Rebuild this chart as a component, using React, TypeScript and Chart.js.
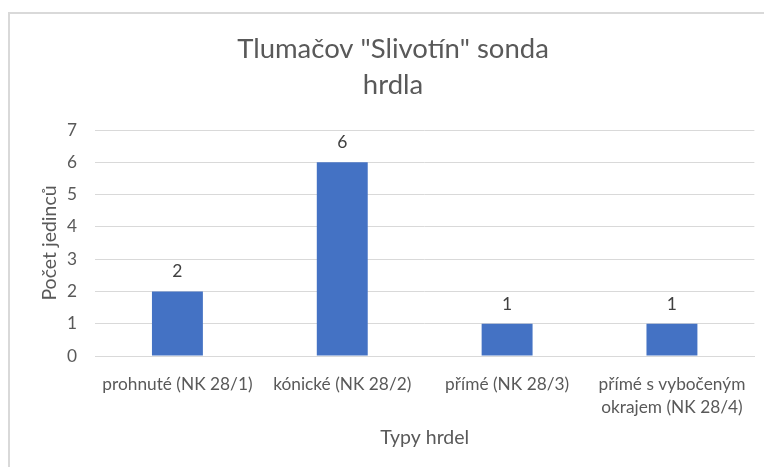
import React, { useEffect, useRef } from "react";
import { Chart, registerables } from "chart.js";

Chart.register(...registerables);

const titleLines = ['Tlumačov "Slivotín" sonda', "hrdla"];
const categories: (string | string[])[] = [
  "prohnuté (NK 28/1)",
  "kónické (NK 28/2)",
  "přímé (NK 28/3)",
  ["přímé s vybočeným", "okrajem (NK 28/4)"],
];
const counts = [2, 6, 1, 1];
const yAxisTitle = "Počet jedinců";
const xAxisTitle = "Typy hrdel";
const yMin = 0;
const yMax = 7;
const yStep = 1;

const FONT = "Lato, 'Open Sans', sans-serif";
const TEXT = "#595959";

const borderPlugin = {
  id: "excelBorder",
  beforeDraw(chart: any) {
    const ctx = chart.ctx;
    ctx.save();
    ctx.fillStyle = "#ffffff";
    ctx.fillRect(0, 0, chart.width, chart.height);
    ctx.strokeStyle = "#d9d9d9";
    ctx.lineWidth = 2;
    ctx.strokeRect(9, 13, chart.width + 20, chart.height + 20);
    ctx.restore();
  },
};

const valueLabelPlugin = {
  id: "valueLabels",
  afterDatasetsDraw(chart: any) {
    const ctx = chart.ctx;
    ctx.save();
    ctx.font = `17.5px ${FONT}`;
    ctx.fillStyle = "#404040";
    ctx.textAlign = "center";
    ctx.textBaseline = "alphabetic";
    chart.data.datasets.forEach((ds: any, i: number) => {
      const meta = chart.getDatasetMeta(i);
      meta.data.forEach((bar: any, j: number) => {
        ctx.fillText(String(ds.data[j]), bar.x, bar.y - 14);
      });
    });
    ctx.restore();
  },
};

export default function App() {
  const ref = useRef<HTMLCanvasElement | null>(null);

  useEffect(() => {
    if (!ref.current) return;
    const chart = new Chart(ref.current, {
      type: "bar",
      data: {
        labels: categories as any,
        datasets: [
          {
            data: counts,
            backgroundColor: "#4472c4",
            borderWidth: 0,
            categoryPercentage: 1,
            barPercentage: 0.309,
          },
        ],
      },
      options: {
        animation: false,
        responsive: false,
        maintainAspectRatio: false,
        devicePixelRatio: 1,
        layout: { padding: { left: 31, right: 9, top: 0, bottom: 0 } },
        plugins: {
          legend: { display: false },
          tooltip: { enabled: false },
          title: {
            display: true,
            text: titleLines,
            color: TEXT,
            font: { family: FONT, size: 27.5, weight: "normal", lineHeight: 36 / 27.5 },
            padding: { top: 31.5, bottom: 26.5 },
          },
        },
        scales: {
          x: {
            grid: { display: false, drawTicks: false },
            border: { display: true, color: "#d9d9d9", width: 1 },
            ticks: {
              color: TEXT,
              font: { family: FONT, size: 17.3, lineHeight: 22.5 / 17.3 },
              padding: 17.5,
              maxRotation: 0,
              minRotation: 0,
              autoSkip: false,
            },
            title: {
              display: true,
              text: xAxisTitle,
              color: TEXT,
              font: { family: FONT, size: 19.5, lineHeight: 1.2 },
              padding: { top: 0, bottom: 18 },
            },
            afterFit(scale: any) {
              scale.height = 111;
            },
          },
          y: {
            min: yMin,
            max: yMax,
            grid: { color: "#d9d9d9", lineWidth: 1, drawTicks: false },
            border: { display: false },
            ticks: {
              stepSize: yStep,
              color: TEXT,
              font: { family: FONT, size: 17.3 },
              padding: 18,
            },
            title: {
              display: true,
              text: yAxisTitle,
              color: TEXT,
              font: { family: FONT, size: 19.5, lineHeight: 1.2 },
              padding: { top: 7, bottom: 0 },
            },
            afterFit(scale: any) {
              scale.width = 64;
            },
          },
        },
      },
      plugins: [borderPlugin, valueLabelPlugin],
    });
    return () => chart.destroy();
  }, []);

  return (
    <canvas
      ref={ref}
      width={764}
      height={467}
      style={{ position: "absolute", left: 0, top: 0, width: 764, height: 467 }}
    />
  );
}
